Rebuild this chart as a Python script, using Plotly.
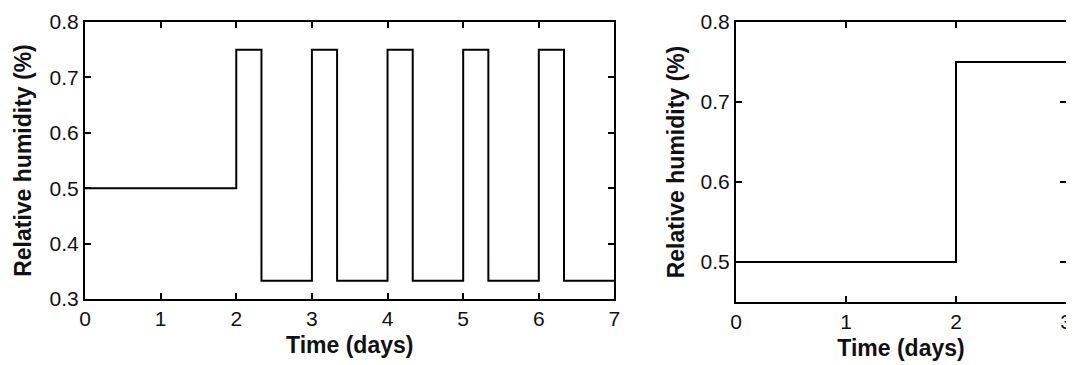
import plotly.graph_objects as go
from plotly.subplots import make_subplots

# left panel: cycling humidity (days, fraction)
t_cycle = [0, 2, 2.333, 3, 3.333, 4, 4.333, 5, 5.333, 6, 6.333, 7]
rh_cycle = [0.5, 0.75, 0.333, 0.75, 0.333, 0.75, 0.333, 0.75, 0.333, 0.75, 0.333, 0.333]

# right panel: single step
t_step = [0, 2, 3]
rh_step = [0.5, 0.75, 0.75]

FONT = "Arial, 'Liberation Sans', sans-serif"

fig = make_subplots(rows=1, cols=2)

fig.add_trace(go.Scatter(x=t_cycle, y=rh_cycle, mode="lines", line_shape="hv",
                         line=dict(color="black", width=2), showlegend=False), row=1, col=1)
fig.add_trace(go.Scatter(x=t_step, y=rh_step, mode="lines", line_shape="hv",
                         line=dict(color="black", width=2), showlegend=False), row=1, col=2)

axis_style = dict(showline=True, linecolor="black", linewidth=2, mirror="ticks",
                  ticks="inside", ticklen=6, tickwidth=1.5, tickcolor="black",
                  showgrid=False, zeroline=False, ticklabeloverflow="allow",
                  tickfont=dict(family=FONT, size=21, color="#111"))
title_font = dict(family=FONT, size=23, color="#111", weight="bold")

fig.update_xaxes(**axis_style)
fig.update_yaxes(**axis_style)

# page body has an 8px margin, so the figure is sized and offset for it
fig.update_xaxes(range=[0, 7], dtick=1, domain=[0, 0.5397],
                 title=dict(text="Time (days)", font=title_font, standoff=8), row=1, col=1)
fig.update_yaxes(range=[0.3, 0.8], dtick=0.1, tickformat=".1f", domain=[0.0106, 1],
                 title=dict(text="Relative humidity (%)", font=title_font, standoff=12), row=1, col=1)
fig.update_xaxes(range=[0, 3], dtick=1, domain=[0.6636, 1],
                 title=dict(text="Time (days)", font=title_font, standoff=8), row=1, col=2)
fig.update_yaxes(range=[0.45, 0.8], tickvals=[0.5, 0.6, 0.7, 0.8], tickformat=".1f", domain=[0, 1],
                 title=dict(text="Relative humidity (%)", font=title_font, standoff=10), row=1, col=2)

fig.update_layout(width=1066, height=357, margin=dict(l=77, r=2, t=11, b=63),
                  paper_bgcolor="white", plot_bgcolor="white")

fig.write_html("out.html")
